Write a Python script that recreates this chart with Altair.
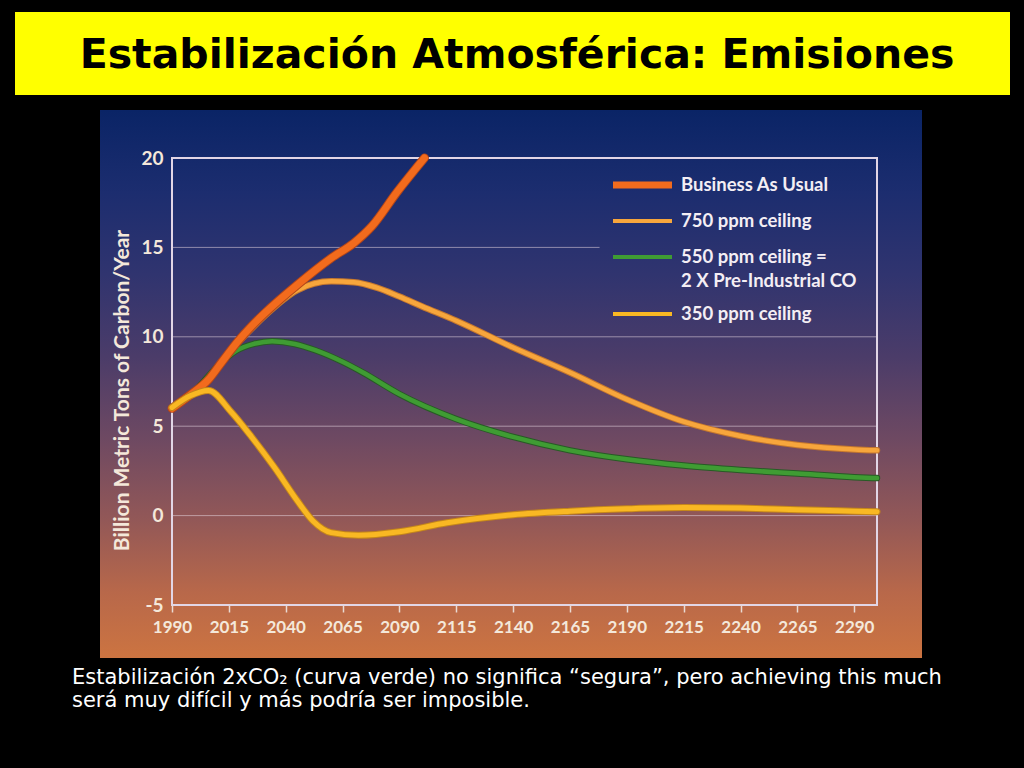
import altair as alt
import pandas as pd

# ---- text -------------------------------------------------------------
TITLE = "Estabilización Atmosférica: Emisiones"
CAPTION_1 = "Estabilización 2xCO₂ (curva verde) no significa “segura”, pero achieving this much"
CAPTION_2 = "será muy difícil y más podría ser imposible."
Y_TITLE = "Billion Metric Tons of Carbon/Year"

# ---- axes -------------------------------------------------------------
x_ticks = [1990, 2015, 2040, 2065, 2090, 2115, 2140, 2165, 2190, 2215, 2240, 2265, 2290]
y_ticks = [-5, 0, 5, 10, 15, 20]
x_domain = [1990, 2300]
y_domain = [-5, 20]

# ---- emission pathways (GtC / year) ----------------------------------
bau_years = [1990, 1998, 2006, 2012, 2019, 2025, 2031, 2045, 2060, 2070, 2078, 2089, 2101]
bau_values = [6.0, 6.75, 7.6, 8.6, 9.75, 10.6, 11.35, 12.9, 14.4, 15.25, 16.2, 18.1, 20.0]

p750_years = [1990, 1998, 2006, 2012, 2019, 2025, 2031, 2045, 2060, 2070, 2080, 2090,
              2100, 2115, 2140, 2165, 2190, 2215, 2240, 2265, 2290, 2300]
p750_values = [6.0, 6.75, 7.6, 8.55, 9.65, 10.45, 11.2, 12.6, 13.1, 13.05, 12.75, 12.25,
               11.7, 10.9, 9.4, 8.0, 6.5, 5.25, 4.45, 3.95, 3.7, 3.65]

p550_years = [1990, 2001, 2010, 2018, 2026, 2034, 2044, 2053, 2065, 2074, 2090, 2115,
              2140, 2165, 2190, 2215, 2240, 2265, 2290, 2300]
p550_values = [6.0, 7.1, 8.35, 9.2, 9.6, 9.75, 9.6, 9.25, 8.6, 8.0, 6.8, 5.4,
               4.4, 3.65, 3.15, 2.8, 2.55, 2.35, 2.15, 2.1]

p350_years = [1990, 1998, 2006, 2016, 2025, 2035, 2045, 2052, 2060, 2072, 2090,
              2111, 2140, 2165, 2190, 2215, 2240, 2265, 2290, 2300]
p350_values = [6.05, 6.7, 7.0, 5.8, 4.4, 2.7, 0.85, -0.3, -0.95, -1.1, -0.9,
               -0.4, 0.05, 0.25, 0.38, 0.45, 0.42, 0.33, 0.25, 0.22]

legend_labels = ["Business As Usual", "750 ppm ceiling", "550 ppm ceiling =",
                 "2 X Pre-Industrial CO", "350 ppm ceiling"]

# gridlines: level and the year where each one stops
grid_levels = [0, 5, 10, 15]
grid_ends = [2300, 2300, 2300, 2178]

# ---- styling ----------------------------------------------------------
W, H = 705, 447
PAD = {"left": 172, "top": 158, "right": 147, "bottom": 163}
LABEL = "#f4e8da"
FONT = "Lato"

xs = alt.Scale(domain=x_domain, nice=False, zero=False)
ys = alt.Scale(domain=y_domain, nice=False, zero=False)
x_axis = alt.Axis(values=x_ticks, format="d", title=None, grid=False, domain=False,
                  labelFont=FONT, labelFontSize=17, labelFontWeight="bold",
                  labelColor=LABEL, tickColor="#eadad2", tickSize=7, tickWidth=1.5,
                  labelPadding=7, zindex=1, labelFlush=False)
y_axis = alt.Axis(values=y_ticks, title=Y_TITLE, grid=False, domain=False,
                  labelExpr="'' + datum.value",
                  labelFont=FONT, labelFontSize=19, labelFontWeight="bold",
                  labelColor=LABEL, ticks=False, labelPadding=9,
                  titleFont=FONT, titleFontSize=21, titleFontWeight="bold",
                  titleColor=LABEL, titlePadding=8, titleY=232, zindex=1)


def X(field="year"):
    return alt.X(f"{field}:Q", scale=xs, axis=x_axis)


def Y():
    return alt.Y("value:Q", scale=ys, axis=y_axis)


one = pd.DataFrame({"k": [0]})

# gradient panel behind the plot
panel = alt.Chart(one).mark_rect(
    fill=alt.Gradient(
        gradient="linear", x1=0, y1=0, x2=0, y2=1,
        stops=[
            alt.GradientStop(color="#0a2466", offset=0.0),
            alt.GradientStop(color="#1c2d6f", offset=0.15),
            alt.GradientStop(color="#30346f", offset=0.3),
            alt.GradientStop(color="#4b3c69", offset=0.45),
            alt.GradientStop(color="#6e4962", offset=0.6),
            alt.GradientStop(color="#935857", offset=0.75),
            alt.GradientStop(color="#b8684a", offset=0.88),
            alt.GradientStop(color="#cc7441", offset=1.0),
        ],
    )
).encode(x=alt.value(-72), x2=alt.value(750), y=alt.value(-48), y2=alt.value(500))

# yellow title band
band = alt.Chart(one).mark_rect(color="#ffff00").encode(
    x=alt.value(-157), x2=alt.value(838), y=alt.value(-146), y2=alt.value(-63))
title = alt.Chart(pd.DataFrame({"t": [TITLE]})).mark_text(
    font="DejaVu Sans", fontSize=41, fontWeight="bold", color="black",
    align="center", baseline="middle").encode(
    x=alt.value(345), y=alt.value(-102), text="t:N")

captions = []
for line, ypos in zip([CAPTION_1, CAPTION_2], [526, 549]):
    captions.append(alt.Chart(pd.DataFrame({"t": [line]})).mark_text(
        font="DejaVu Sans", fontSize=21, color="white", align="left",
        baseline="alphabetic").encode(x=alt.value(-100), y=alt.value(ypos), text="t:N"))

grid_df = pd.DataFrame({"year": [x_domain[0]] * len(grid_levels),
                        "year_end": grid_ends, "value": grid_levels})
grid = alt.Chart(grid_df).mark_rule(color="#e6d6e0", strokeWidth=1, opacity=0.55).encode(
    x=X(), x2="year_end:Q", y=Y())

# plot frame
frame = alt.Chart(one).mark_rect(filled=False, stroke="#e2d6e6", strokeWidth=2).encode(
    x=alt.value(0), x2=alt.value(W), y=alt.value(0), y2=alt.value(H))

series = [
    # name, years, values, colour, outline, width
    ("550 ppm ceiling", p550_years, p550_values, "#3f9c33", "#285a26", 4.5),
    ("750 ppm ceiling", p750_years, p750_values, "#f7a63c", "#c4772e", 4.5),
    ("Business As Usual", bau_years, bau_values, "#f26b1d", "#b34619", 7.0),
    ("350 ppm ceiling", p350_years, p350_values, "#f9b823", "#c4861b", 5.0),
]

curves = []
for name, yrs, vals, col, edge, w in series:
    df = pd.DataFrame({"year": yrs, "value": vals, "series": name})
    base = alt.Chart(df).encode(x=X(), y=Y())
    curves.append(base.mark_line(interpolate="monotone", color=edge, strokeWidth=w + 2,
                                 strokeCap="round"))
    curves.append(base.mark_line(interpolate="monotone", color=col, strokeWidth=w,
                                 strokeCap="round"))

# legend drawn inside the plot
legend_rows = [27, 63, 99, 123, 156]
swatch_colors = ["#f26b1d", "#f7a63c", "#3f9c33", None, "#f9b823"]
swatch_widths = [7, 4, 4, 0, 4]
legend = []
for lab, ypos, col, sw in zip(legend_labels, legend_rows, swatch_colors, swatch_widths):
    if col:
        legend.append(alt.Chart(one).mark_rule(color=col, strokeWidth=sw).encode(
            x=alt.value(441), x2=alt.value(500), y=alt.value(ypos)))
    legend.append(alt.Chart(pd.DataFrame({"t": [lab]})).mark_text(
        font=FONT, fontSize=18.5, fontWeight="bold", color="#f4eef4",
        align="left", baseline="middle").encode(
        x=alt.value(509), y=alt.value(ypos), text="t:N"))

chart = alt.layer(panel, band, title, grid, frame, *curves, *legend, *captions).properties(
    width=W, height=H, padding=PAD, autosize="none", background="black"
).configure_view(stroke=None)

chart.save("out.html", embed_options={"renderer": "svg", "actions": False})
